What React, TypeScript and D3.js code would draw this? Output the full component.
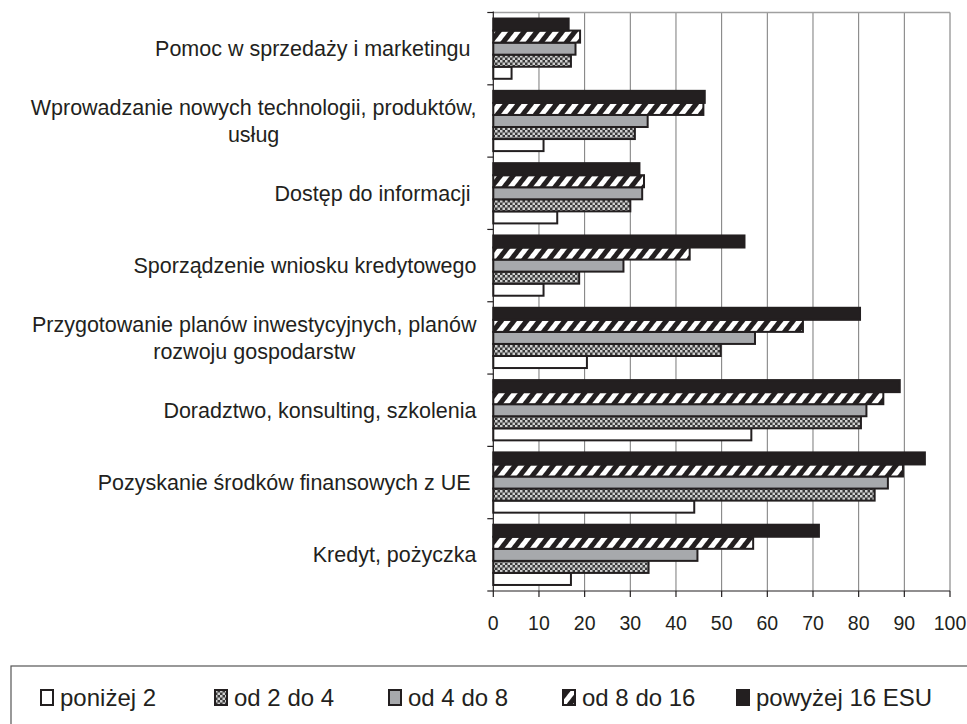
import React, { useEffect, useRef } from "react";
import * as d3 from "d3";

// categories top to bottom (each entry = label lines)
const categoryLabels: string[][] = [
  ["Pomoc w sprzedaży i marketingu "],
  ["Wprowadzanie nowych technologii, produktów,", "usług"],
  ["Dostęp do informacji "],
  ["Sporządzenie wniosku kredytowego"],
  ["Przygotowanie planów inwestycyjnych, planów", "rozwoju gospodarstw"],
  ["Doradztwo, konsulting, szkolenia"],
  ["Pozyskanie środków finansowych z UE "],
  ["Kredyt, pożyczka"],
];

const seriesNames = ["poniżej 2", "od 2 do 4", "od 4 do 8", "od 8 do 16", "powyżej 16 ESU"];

// values per series, in the category order above
const ponizej2 = [4, 11, 14, 11, 20.5, 56.5, 44, 17];
const od2do4 = [17, 31, 30, 18.8, 49.8, 80.5, 83.5, 34];
const od4do8 = [18, 33.8, 32.6, 28.5, 57.3, 81.7, 86.4, 44.7];
const od8do16 = [19, 46, 33, 43, 67.8, 85.4, 89.7, 56.9];
const powyzej16 = [16.5, 46.3, 32, 55, 80.3, 89, 94.5, 71.3];

const xTicks = [0, 10, 20, 30, 40, 50, 60, 70, 80, 90, 100];

const W = 967;
const H = 724;
const INK = "#231f20";
const FONT = "'Liberation Sans', Arial, sans-serif";

export default function App() {
  const ref = useRef<SVGSVGElement | null>(null);

  useEffect(() => {
    const svg = d3.select(ref.current);
    svg.selectAll("*").remove();

    const left = 493.3;
    const right = 950;
    const top = 12.5;
    const bottom = 591;

    const allSeries = [ponizej2, od2do4, od4do8, od8do16, powyzej16];
    const fills = ["#ffffff", "url(#checker)", "#a7a9ac", "url(#hatch)", INK];

    const defs = svg.append("defs");
    const checker = defs
      .append("pattern")
      .attr("id", "checker")
      .attr("patternUnits", "userSpaceOnUse")
      .attr("width", 5)
      .attr("height", 5);
    checker.append("rect").attr("width", 5).attr("height", 5).attr("fill", "#3a3a3a");
    checker.append("rect").attr("width", 2.5).attr("height", 2.5).attr("fill", "#d0d0d0");
    checker.append("rect").attr("x", 2.5).attr("y", 2.5).attr("width", 2.5).attr("height", 2.5).attr("fill", "#d0d0d0");

    const hatch = defs
      .append("pattern")
      .attr("id", "hatch")
      .attr("patternUnits", "userSpaceOnUse")
      .attr("width", 10)
      .attr("height", 10)
      .attr("patternTransform", "rotate(38)");
    hatch.append("rect").attr("width", 10).attr("height", 10).attr("fill", "#ffffff");
    hatch.append("rect").attr("width", 5).attr("height", 10).attr("fill", INK);

    const x = d3.scaleLinear().domain([0, 100]).range([left, right]);
    const y = d3
      .scaleBand<number>()
      .domain(d3.range(categoryLabels.length))
      .range([top, bottom])
      .padding(0);
    const bw = y.bandwidth();
    const ys = d3
      .scaleBand<number>()
      .domain([4, 3, 2, 1, 0])
      .range([bw / 12, bw - bw / 12])
      .padding(0);

    const g = svg.append("g");
    g.selectAll("line.grid")
      .data(xTicks.filter((t) => t > 0 && t < 100))
      .join("line")
      .attr("x1", (d) => x(d))
      .attr("x2", (d) => x(d))
      .attr("y1", top)
      .attr("y2", bottom)
      .attr("stroke", "#7a7a7a")
      .attr("stroke-width", 1);
    g.append("line")
      .attr("x1", left)
      .attr("x2", right)
      .attr("y1", top)
      .attr("y2", top)
      .attr("stroke", "#a0a0a0")
      .attr("stroke-width", 1.5);
    g.append("line")
      .attr("x1", right)
      .attr("x2", right)
      .attr("y1", top)
      .attr("y2", bottom)
      .attr("stroke", "#a0a0a0")
      .attr("stroke-width", 1.5);

    allSeries.forEach((vals, si) => {
      g.append("g")
        .selectAll("rect")
        .data(vals)
        .join("rect")
        .attr("x", left)
        .attr("y", (_, ci) => (y(ci) as number) + (ys(si) as number))
        .attr("width", (v) => x(v) - left)
        .attr("height", ys.bandwidth())
        .attr("fill", fills[si])
        .attr("stroke", INK)
        .attr("stroke-width", 2);
    });

    g.append("line")
      .attr("x1", left)
      .attr("x2", left)
      .attr("y1", top - 1)
      .attr("y2", bottom)
      .attr("stroke", INK)
      .attr("stroke-width", 1.2);
    g.append("line")
      .attr("x1", left)
      .attr("x2", right)
      .attr("y1", bottom)
      .attr("y2", bottom)
      .attr("stroke", INK)
      .attr("stroke-width", 1.2);
    const boundaries = d3.range(categoryLabels.length + 1).map((i) => top + i * bw);
    g.selectAll("line.ytick")
      .data(boundaries)
      .join("line")
      .attr("x1", left - 6)
      .attr("x2", left)
      .attr("y1", (d) => d)
      .attr("y2", (d) => d)
      .attr("stroke", INK)
      .attr("stroke-width", 1.2);
    g.selectAll("line.xtick")
      .data(xTicks)
      .join("line")
      .attr("x1", (d) => x(d))
      .attr("x2", (d) => x(d))
      .attr("y1", bottom)
      .attr("y2", bottom + 6)
      .attr("stroke", INK)
      .attr("stroke-width", 1.2);
    g.selectAll("text.xtl")
      .data(xTicks)
      .join("text")
      .attr("x", (d) => x(d))
      .attr("y", 629.5)
      .attr("text-anchor", "middle")
      .attr("font-family", FONT)
      .attr("font-size", 19.5)
      .attr("fill", INK)
      .text((d) => String(d));

    const labelRight = 476.5;
    const lineGap = 27.5;
    const fs = 21.5;
    categoryLabels.forEach((lines, ci) => {
      const cy = (y(ci) as number) + bw / 2;
      const n = lines.length;
      const t0 = g
        .append("text")
        .attr("x", labelRight)
        .attr("y", cy - ((n - 1) * lineGap) / 2)
        .attr("dy", "0.35em")
        .attr("text-anchor", "end")
        .attr("font-family", FONT)
        .attr("font-size", fs)
        .attr("fill", INK)
        .style("white-space", "pre")
        .text(lines[0]);
      if (n > 1) {
        const w0 = (t0.node() as SVGTextElement).getComputedTextLength();
        const cx = labelRight - w0 / 2;
        for (let k = 1; k < n; k++) {
          g.append("text")
            .attr("x", cx)
            .attr("y", cy - ((n - 1) * lineGap) / 2 + k * lineGap)
            .attr("dy", "0.35em")
            .attr("text-anchor", "middle")
            .attr("font-family", FONT)
            .attr("font-size", fs)
            .attr("fill", INK)
            .text(lines[k]);
        }
      }
    });

    const lg = svg.append("g");
    lg.append("rect")
      .attr("x", 11)
      .attr("y", 666)
      .attr("width", 1000)
      .attr("height", 200)
      .attr("fill", "none")
      .attr("stroke", "#555")
      .attr("stroke-width", 1.2);
    const legendX = d3.scalePoint<number>().domain(d3.range(seriesNames.length)).range([41, 737]);
    seriesNames.forEach((name, si) => {
      const lx = legendX(si) as number;
      lg.append("rect")
        .attr("x", lx)
        .attr("y", 690)
        .attr("width", 12)
        .attr("height", 15)
        .attr("fill", fills[si])
        .attr("stroke", INK)
        .attr("stroke-width", 2);
      lg.append("text")
        .attr("x", lx + 19)
        .attr("y", 706)
        .attr("font-family", FONT)
        .attr("font-size", 24)
        .attr("fill", INK)
        .text(name);
    });
  }, []);

  return (
    <svg
      ref={ref}
      width={W}
      height={H}
      style={{ position: "absolute", left: 0, top: 0, background: "#fff" }}
    />
  );
}
